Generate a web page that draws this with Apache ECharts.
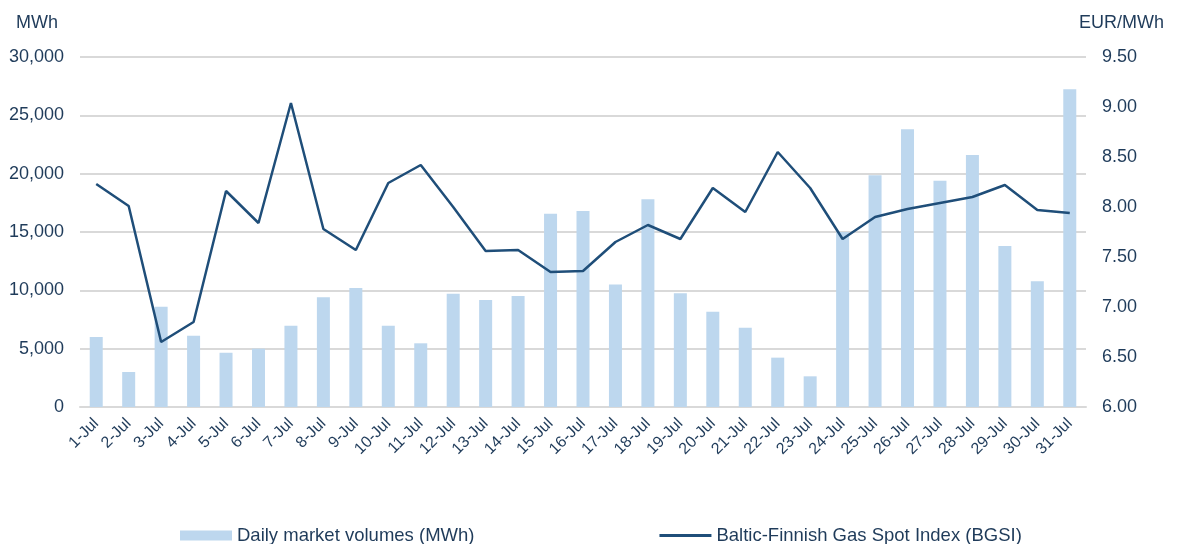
<!DOCTYPE html>
<html>
<head>
<meta charset="utf-8">
<script src="https://cdn.jsdelivr.net/npm/echarts@6/dist/echarts.min.js"></script>
<style>html,body{margin:0;padding:0;background:#fff;}#c{width:1177px;height:544px;}</style>
</head>
<body>
<div id="c"></div>
<script>
const categories = ['1-Jul','2-Jul','3-Jul','4-Jul','5-Jul','6-Jul','7-Jul','8-Jul','9-Jul','10-Jul','11-Jul','12-Jul','13-Jul','14-Jul','15-Jul','16-Jul','17-Jul','18-Jul','19-Jul','20-Jul','21-Jul','22-Jul','23-Jul','24-Jul','25-Jul','26-Jul','27-Jul','28-Jul','29-Jul','30-Jul','31-Jul'];
const volumes = [6000,3000,8600,6100,4650,5000,6970,9400,10200,6970,5460,9710,9170,9510,16570,16800,10490,17800,9740,8170,6800,4230,2630,15000,19860,23800,19400,21600,13800,10770,27230];
const bgsi = [8.23,8.01,6.65,6.85,8.16,7.84,9.04,7.78,7.57,8.24,8.42,8.00,7.56,7.57,7.35,7.36,7.65,7.82,7.68,8.19,7.95,8.55,8.19,7.68,7.90,7.98,8.04,8.10,8.22,7.97,7.94];
const seriesNames = ['Daily market volumes (MWh)','Baltic-Finnish Gas Spot Index (BGSI)'];

const textColor = '#1F3B5A';
const font = 'Liberation Sans, Arial, sans-serif';
const chart = echarts.init(document.getElementById('c'));
chart.setOption({
  animation: false,
  textStyle: { fontFamily: font, color: textColor },
  grid: { left: 80, right: 91, top: 57, bottom: 137, containLabel: false },
  legend: {
    top: 521, left: 175,
    itemGap: 185, itemWidth: 52, itemHeight: 10,
    textStyle: { fontSize: 18.5, color: textColor, fontFamily: font },
    data: [
      { name: seriesNames[0], icon: 'rect' },
      { name: seriesNames[1], icon: 'path://M0,0 L17,0 L17,1 L0,1 Z' }
    ]
  },
  xAxis: {
    type: 'category', data: categories,
    axisLine: { lineStyle: { color: '#D9D9D9', width: 2 } },
    axisTick: { show: false },
    axisLabel: { rotate: 45, fontSize: 16, color: textColor, interval: 0, margin: 14 }
  },
  yAxis: [
    { type: 'value', min: 0, max: 30000, interval: 5000, name: 'MWh',
      nameLocation: 'end', nameGap: 25, nameTextStyle: { fontSize: 18, color: textColor, align: 'right', padding: [0, 22, 0, 0] },
      axisLabel: { fontSize: 18, color: textColor, margin: 16,
        formatter: v => v.toLocaleString('en-US') },
      splitLine: { lineStyle: { color: '#D9D9D9', width: 2 } },
      axisLine: { show: false }, axisTick: { show: false } },
    { type: 'value', min: 6, max: 9.5, interval: 0.5, name: 'EUR/MWh',
      nameLocation: 'end', nameGap: 25, nameTextStyle: { fontSize: 18, color: textColor, align: 'left', padding: [0, 0, 0, -7] },
      axisLabel: { fontSize: 18, color: textColor, margin: 16, formatter: v => v.toFixed(2) },
      splitLine: { show: false }, axisLine: { show: false }, axisTick: { show: false } }
  ],
  series: [
    { name: seriesNames[0], type: 'bar', data: volumes, yAxisIndex: 0, barWidth: 13,
      itemStyle: { color: '#BDD7EE' } },
    { name: seriesNames[1], type: 'line', data: bgsi, yAxisIndex: 1, symbol: 'none',
      lineStyle: { color: '#1F4E79', width: 2.5 }, itemStyle: { color: '#1F4E79' } }
  ]
});
</script>
</body>
</html>
